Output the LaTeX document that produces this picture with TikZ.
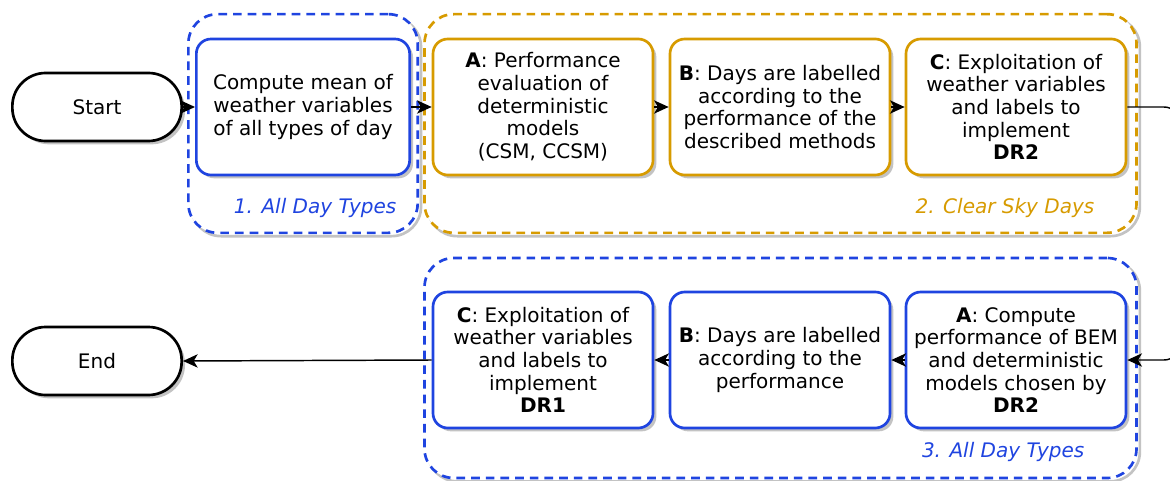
\documentclass[tikz,border=0pt]{standalone}
\usepackage{fontspec}
\setmainfont{DejaVu Sans}
\usetikzlibrary{arrows.meta, shadows, calc}
\definecolor{dayblue}{RGB}{31, 68, 224}
\definecolor{clearorange}{RGB}{215, 155, 0}
\definecolor{shadegray}{RGB}{195, 195, 195}

\tikzset{
  stepbox/.style={draw=#1, line width=2pt, fill=white, rounded corners=11pt, align=center,
    minimum width=165pt, minimum height=102pt, inner sep=2pt,
    drop shadow={shadow xshift=2.5pt, shadow yshift=-2.5pt, fill=shadegray, opacity=1}},
  terminal/.style={draw, line width=2pt, fill=white, rounded corners=25pt,
    minimum width=127pt, minimum height=51pt,
    drop shadow={shadow xshift=2.5pt, shadow yshift=-2.5pt, fill=shadegray, opacity=1}},
  groupbox/.style={draw=#1, fill=white, line width=2pt, dash pattern=on 6.5pt off 4.5pt, rounded corners=22pt},
  groupshade/.style={draw=shadegray, line width=2pt, rounded corners=22pt, xshift=2.5pt, yshift=-2.5pt},
  grouplabel/.style={text=#1, font=\fontsize{15}{17}\selectfont\itshape, anchor=east},
  flow/.style={-{Stealth[length=11pt, width=10pt, inset=3pt]}, line width=1.1pt}
}

\begin{document}
\begin{tikzpicture}[x=0.75pt, y=-0.75pt, font=\fontsize{15}{17}\selectfont]
  \useasboundingbox (0,0) rectangle (1170,481);

  % --- groups ---
  \foreach \gx/\gy/\gw/\gh in {303/123.5/172/164, 780.5/123.5/534/164, 780.5/368/534/165} {
    \node[groupshade, minimum width=\gw pt, minimum height=\gh pt] at (\gx,\gy) {};
  }
  \node[groupbox=dayblue, minimum width=172pt, minimum height=164pt] (grp1) at (303,123.5) {};
  \node[groupbox=clearorange, minimum width=534pt, minimum height=164pt] (grp2) at (780.5,123.5) {};
  \node[groupbox=dayblue, minimum width=534pt, minimum height=165pt] (grp3) at (780.5,368) {};
  \node[grouplabel=dayblue] (lab1) at (401,208) {1. All Day Types};
  \node[grouplabel=clearorange] (lab2) at (1099,208) {2. Clear Sky Days};
  \node[grouplabel=dayblue] (lab3) at (1089,452) {3. All Day Types};

  % --- top row ---
  \node[terminal] (start) at (97,107) {Start};
  \node[stepbox=dayblue, minimum width=160pt] (comp) at (303,107)
    {Compute mean of\\ weather variables\\ of all types of day};
  \node[stepbox=clearorange] (a2) at (543,107)
    {\textbf{A}: Performance\\ evaluation of\\ deterministic\\ models\\ (CSM, CCSM)};
  \node[stepbox=clearorange] (b2) at (780,107)
    {\textbf{B}: Days are labelled\\ according to the\\ performance of the\\ described methods};
  \node[stepbox=clearorange] (c2) at (1016,107)
    {\textbf{C}: Exploitation of\\ weather variables\\ and labels to\\ implement\\ \textbf{DR2}};

  % --- bottom row ---
  \node[terminal] (end) at (97,361) {End};
  \node[stepbox=dayblue] (c3) at (543,360)
    {\textbf{C}: Exploitation of\\ weather variables\\ and labels to\\ implement\\ \textbf{DR1}};
  \node[stepbox=dayblue] (b3) at (780,360)
    {\textbf{B}: Days are labelled\\ according to the\\ performance};
  \node[stepbox=dayblue] (a3) at (1016,360)
    {\textbf{A}: Compute\\ performance of BEM\\ and deterministic\\ models chosen by\\ \textbf{DR2}};

  % --- connectors ---
  \coordinate (turn) at (1180,235);
  \draw[flow] (start.east) -- (comp.west);
  \draw[flow] (comp.east) -- (a2.west);
  \draw[flow] (a2.east) -- (b2.west);
  \draw[flow] (b2.east) -- (c2.west);
  \draw[flow, rounded corners=12pt] (c2.east) -| (turn) |- (a3.east);
  \draw[flow] (a3.west) -- (b3.east);
  \draw[flow] (b3.west) -- (c3.east);
  \draw[flow] (c3.west) -- (end.east);
\end{tikzpicture}
\end{document}
